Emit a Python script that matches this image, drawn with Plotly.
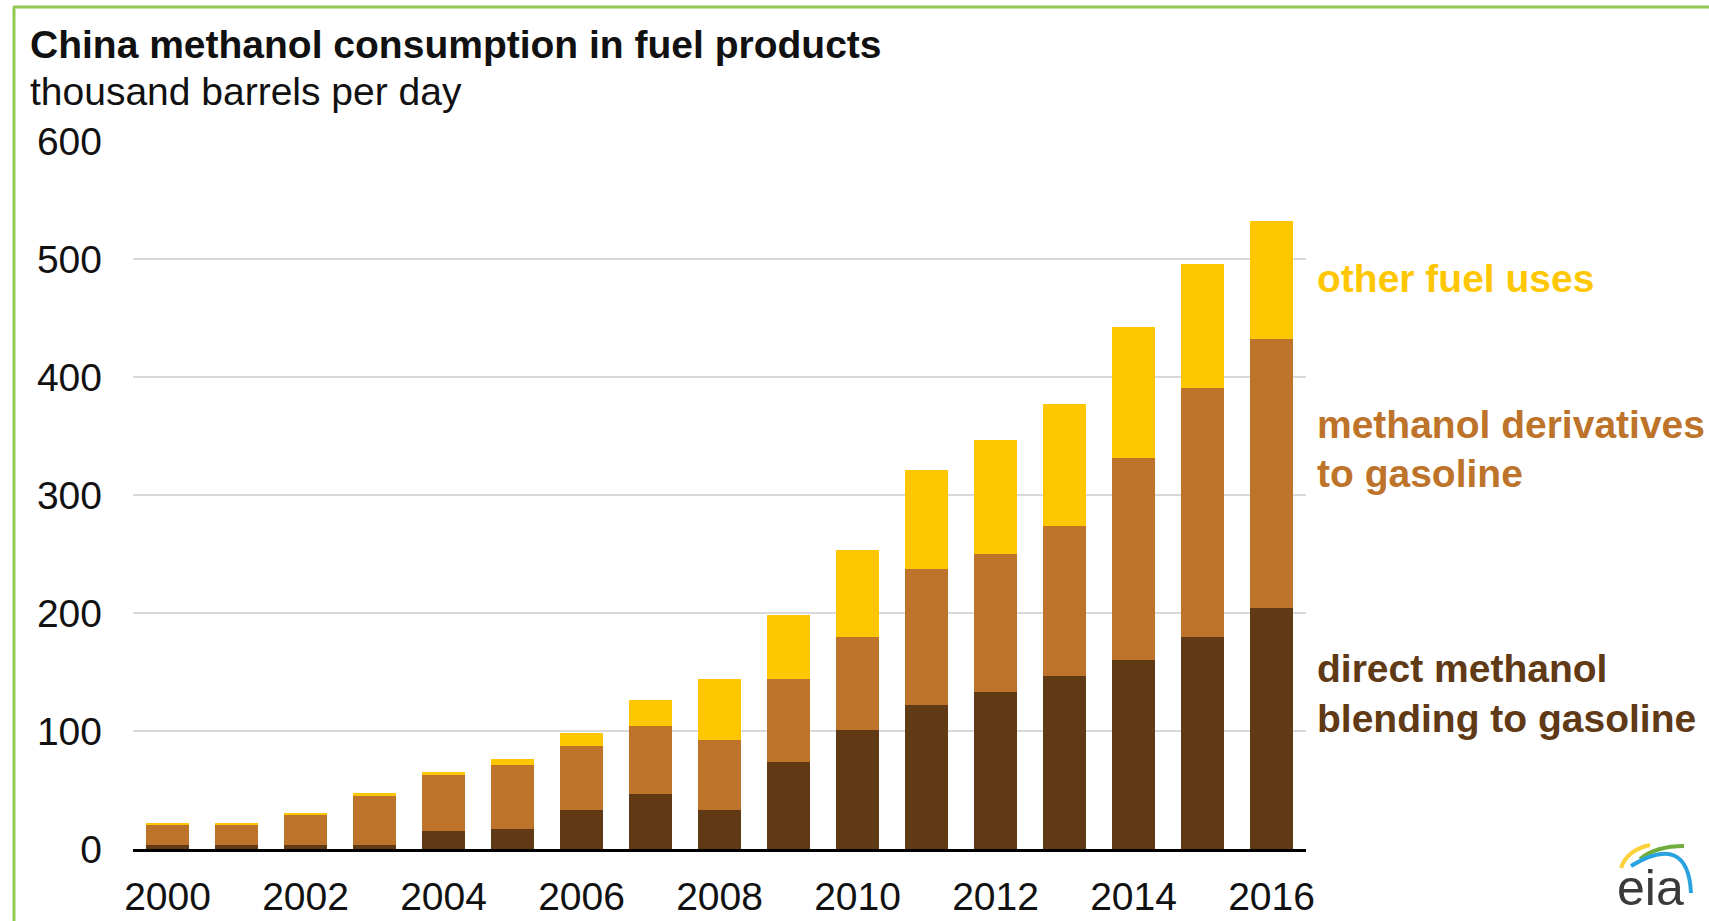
import plotly.graph_objects as go

# ---- data (thousand barrels per day) ----
years = list(range(2000, 2017))
direct_blending = [3.5, 3.5, 3.5, 3.5, 15, 17, 33, 47, 33, 74, 101, 122, 133, 147, 160, 180, 204]
derivatives = [16.5, 16.5, 25, 41, 48, 54, 54, 57, 59, 70, 79, 115, 117, 127, 171, 211, 228]
other_uses = [2.3, 2.3, 2.3, 2.6, 2.5, 5, 11, 22, 52, 54, 73, 84, 97, 103, 111, 105, 100]
y_ticks = [0, 100, 200, 300, 400, 500, 600]
x_ticks = [2000, 2002, 2004, 2006, 2008, 2010, 2012, 2014, 2016]

series_names = ["direct methanol blending to gasoline", "methanol derivatives to gasoline", "other fuel uses"]
colors = ["#603915", "#bd732a", "#fec702"]

W, H = 1709, 921
ML, MR, MT, MB = 133, W - 1306, 141, H - 849
PW, PH = W - ML - MR, H - MT - MB


def px(x):
    return (x - ML) / PW


def py(y):
    return (H - MB - y) / PH


FONT = "Liberation Sans, Arial, sans-serif"

fig = go.Figure()
for name, vals, col in zip(series_names, [direct_blending, derivatives, other_uses], colors):
    fig.add_trace(go.Bar(x=years, y=vals, name=name, marker=dict(color=col, line=dict(width=0)),
                         hoverinfo="x+y+name"))

annotations = [
    dict(text="<b>China methanol consumption in fuel products</b>", x=px(28), y=py(44), xanchor="left",
         yanchor="middle", font=dict(size=39, color="#111111")),
    dict(text="thousand barrels per day", x=px(28), y=py(91), xanchor="left", yanchor="middle",
         font=dict(size=39, color="#111111")),
    dict(text="<b>other fuel uses</b>", x=px(1315), y=py(278), xanchor="left", yanchor="middle",
         font=dict(size=39, color=colors[2])),
    dict(text="<b>methanol derivatives</b>", x=px(1315), y=py(424), xanchor="left", yanchor="middle",
         font=dict(size=39, color=colors[1])),
    dict(text="<b>to gasoline</b>", x=px(1315), y=py(473), xanchor="left", yanchor="middle",
         font=dict(size=39, color=colors[1])),
    dict(text="<b>direct methanol</b>", x=px(1315), y=py(668), xanchor="left", yanchor="middle",
         font=dict(size=39, color=colors[0])),
    dict(text="<b>blending to gasoline</b>", x=px(1315), y=py(718), xanchor="left", yanchor="middle",
         font=dict(size=39, color=colors[0])),
    dict(text="eia", x=px(1650), y=py(888), xanchor="center", yanchor="middle",
         font=dict(size=50, color="#3a3a3a")),
]
for a in annotations:
    a.update(xref="paper", yref="paper", showarrow=False)


def path(points):
    (x0, y0), (cx, cy), (x1, y1) = points
    return f"M {px(x0)},{py(y0)} Q {px(cx)},{py(cy)} {px(x1)},{py(y1)}"


shapes = [
    # green frame
    dict(type="line", x0=px(13), x1=px(1709), y0=py(7), y1=py(7), line=dict(color="#92c955", width=3)),
    dict(type="line", x0=px(14), x1=px(14), y0=py(7), y1=py(921), line=dict(color="#92c955", width=3)),
    # eia logo arcs
    dict(type="path", path=path([(1621, 868), (1627, 850), (1650, 845)]), line=dict(color="#fcd23a", width=4)),
    dict(type="path", path=path([(1640, 859), (1656, 846), (1684, 846)]), line=dict(color="#6fae3d", width=4)),
    dict(type="path", path=path([(1631, 866), (1688, 832), (1691, 893)]), line=dict(color="#29a3e0", width=4)),
]
for s in shapes:
    s.update(xref="paper", yref="paper", layer="above")

fig.update_layout(
    width=W, height=H, autosize=False,
    margin=dict(l=ML, r=MR, t=MT, b=MB, pad=0, autoexpand=False),
    barmode="stack", bargap=0.39,
    plot_bgcolor="white", paper_bgcolor="white",
    showlegend=False,
    font=dict(family=FONT, size=39, color="#111111"),
    annotations=annotations, shapes=shapes,
    xaxis=dict(range=[1999.5, 2016.5], tickmode="array", tickvals=x_ticks, ticktext=[str(t) for t in x_ticks],
               showgrid=False, zeroline=False, showline=True, linecolor="black", linewidth=3,
               ticks="", ticklabelstandoff=11, tickfont=dict(size=39, color="#111111"), fixedrange=True,
               automargin=False),
    yaxis=dict(range=[0, 600], tickmode="array", tickvals=y_ticks, showgrid=True, gridcolor="#d9d9d9",
               gridwidth=2, zeroline=False, showline=False, ticks="", ticklabelstandoff=30,
               tickfont=dict(size=39, color="#111111"), fixedrange=True, automargin=False),
)

fig.write_html("out.html", include_plotlyjs=True, full_html=True, config={"displayModeBar": False})
